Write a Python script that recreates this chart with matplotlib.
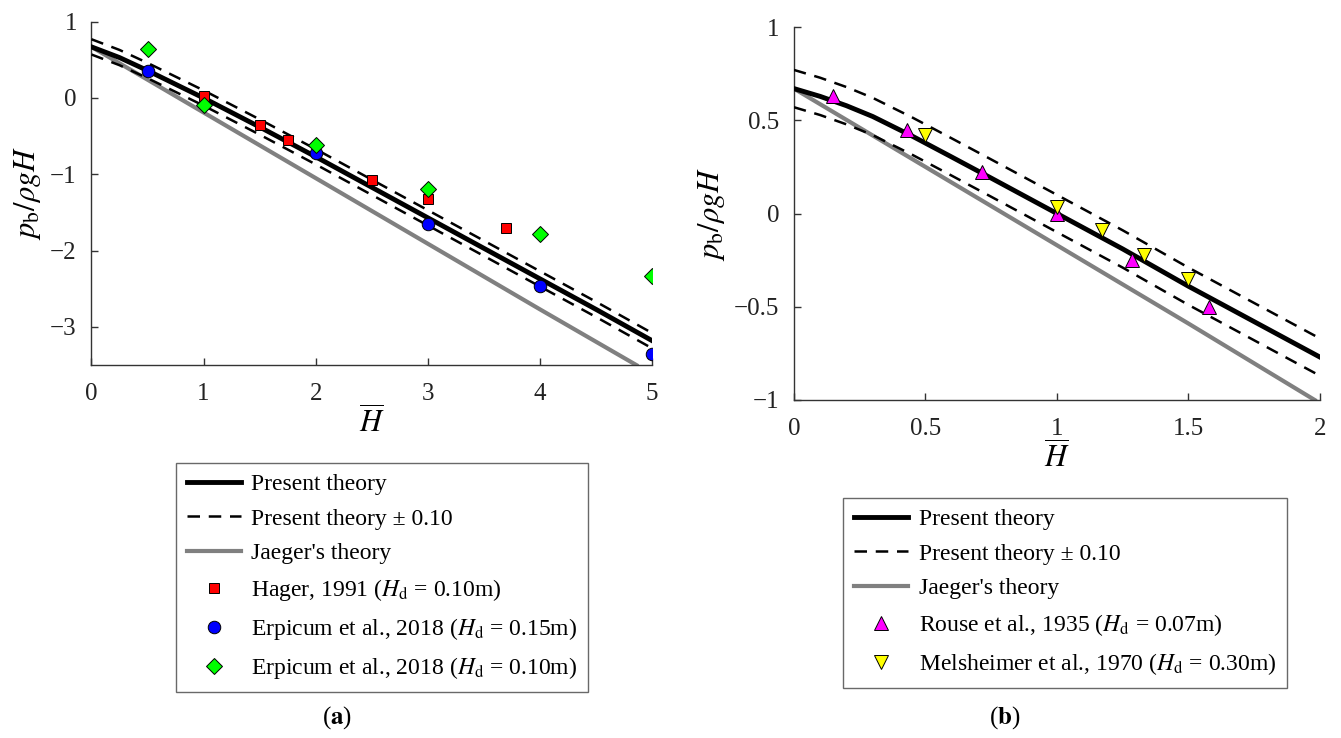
import numpy as np
import matplotlib
matplotlib.use("Agg")
import matplotlib.pyplot as plt

plt.rcParams['font.family'] = ['Liberation Serif', 'DejaVu Serif']
plt.rcParams['mathtext.fontset'] = 'stix'

# ---- panel (a) data ----
theory_a_x = [0, 0.25, 0.5, 1, 1.5, 2, 2.5, 3, 3.5, 4, 4.5, 5]
theory_a_y = [0.67, 0.53, 0.36, 0.0, -0.38, -0.77, -1.17, -1.57, -1.97, -2.37, -2.77, -3.18]
jaeger_a_x = [0, 1, 2, 3, 4, 4.86]
jaeger_a_y = [0.67, -0.19, -1.05, -1.91, -2.77, -3.5]

hager_x = [1, 1.5, 1.75, 2.5, 3, 3.7]
hager_y = [0.03, -0.36, -0.55, -1.07, -1.33, -1.71]
erp15_x = [0.5, 2, 3, 4, 5]
erp15_y = [0.36, -0.72, -1.65, -2.47, -3.36]
erp10_x = [0.5, 1, 2, 3, 4, 5]
erp10_y = [0.64, -0.09, -0.61, -1.19, -1.78, -2.33]

# ---- panel (b) data ----
theory_b_x = [0, 0.1, 0.2, 0.3, 0.45, 0.6, 0.75, 1, 1.25, 1.5, 1.75, 2]
theory_b_y = [0.67, 0.628, 0.578, 0.52, 0.415, 0.303, 0.19, 0.0, -0.19, -0.39, -0.58, -0.77]
jaeger_b_x = [0, 0.5, 1, 1.5, 1.98]
jaeger_b_y = [0.67, 0.25, -0.17, -0.59, -1.0]

rouse_x = [0.15, 0.43, 0.716, 1.0, 1.286, 1.58]
rouse_y = [0.63, 0.45, 0.22, 0.0, -0.25, -0.50]
mels_x = [0.5, 1.0, 1.17, 1.33, 1.5]
mels_y = [0.42, 0.035, -0.09, -0.22, -0.35]

band = 0.10

fig = plt.figure(figsize=(13.41, 7.38), dpi=100)
ax1 = fig.add_axes([0.0682, 0.5054, 0.418, 0.4652])
ax2 = fig.add_axes([0.592, 0.458, 0.3923, 0.5054])


def draw_theory(ax, tx, ty, jx, jy):
    tx = np.array(tx)
    ty = np.array(ty)
    ax.plot(jx, jy, color='#808080', lw=3.0, label="Jaeger's theory", zorder=2)
    ax.plot(tx, ty, color='black', lw=3.5, label='Present theory', zorder=3)
    ax.plot(tx, ty + band, color='black', lw=1.8, ls=(0, (5, 3.5)),
            label='Present theory ± 0.10', zorder=3)
    ax.plot(tx, ty - band, color='black', lw=1.8, ls=(0, (5, 3.5)), zorder=3)


def style_axes(ax, xlim, ylim, xticks, yticks, xlabels, ylabels):
    ax.set_xlim(xlim)
    ax.set_ylim(ylim)
    for s in ['top', 'right']:
        ax.spines[s].set_visible(False)
    for s in ['left', 'bottom']:
        ax.spines[s].set_color('#333333')
        ax.spines[s].set_linewidth(1.0)
    ax.set_xticks(xticks)
    ax.set_yticks(yticks)
    ax.set_xticklabels(xlabels)
    ax.set_yticklabels(ylabels)
    ax.tick_params(direction='in', length=5, width=1, color='#333333',
                   labelsize=18, labelcolor='#222222')
    ax.tick_params(axis='x', pad=13)
    ax.tick_params(axis='y', pad=10.5)
    ax.set_xlabel(r'$\overline{H}$', fontsize=22, labelpad=1)
    ax.set_ylabel(r'$p_{\mathrm{b}}/\rho g H$', fontsize=22, labelpad=5)


# panel (a)
draw_theory(ax1, theory_a_x, theory_a_y, jaeger_a_x, jaeger_a_y)
ax1.plot(hager_x, hager_y, 's', ms=7, mfc='#ff0000', mec='black', mew=0.7,
         label=r'Hager, 1991 ($H_{\mathrm{d}}$ = 0.10m)', zorder=4)
ax1.plot(erp15_x, erp15_y, 'o', ms=9, mfc='#0000ff', mec='black', mew=0.7,
         label=r'Erpicum et al., 2018 ($H_{\mathrm{d}}$ = 0.15m)', zorder=4)
ax1.plot(erp10_x, erp10_y, 'D', ms=8, mfc='#00ff00', mec='black', mew=0.7,
         label=r'Erpicum et al., 2018 ($H_{\mathrm{d}}$ = 0.10m)', zorder=5)
style_axes(ax1, (0, 5), (-3.5, 1), [0, 1, 2, 3, 4, 5], [-3, -2, -1, 0, 1],
           ['0', '1', '2', '3', '4', '5'], ['\u22123', '\u22122', '\u22121', '0', '1'])

# panel (b)
draw_theory(ax2, theory_b_x, theory_b_y, jaeger_b_x, jaeger_b_y)
ax2.plot(rouse_x, rouse_y, '^', ms=10, mfc='#ff00ff', mec='black', mew=0.7,
         label=r'Rouse et al., 1935 ($H_{\mathrm{d}}$ = 0.07m)', zorder=4)
ax2.plot(mels_x, mels_y, 'v', ms=10, mfc='#ffff00', mec='black', mew=0.7,
         label=r'Melsheimer et al., 1970 ($H_{\mathrm{d}}$ = 0.30m)', zorder=4)
style_axes(ax2, (0, 2), (-1, 1), [0, 0.5, 1, 1.5, 2], [-1, -0.5, 0, 0.5, 1],
           ['0', '0.5', '1', '1.5', '2'], ['\u22121', '\u22120.5', '0', '0.5', '1'])


def make_legend(ax, order, anchor):
    h, l = ax.get_legend_handles_labels()
    hh = [h[i] for i in order]
    ll = [l[i] for i in order]
    leg = fig.legend(hh, ll, loc='upper left', bbox_to_anchor=anchor,
                     bbox_transform=fig.transFigure, fontsize=17,
                     frameon=True, fancybox=False, edgecolor='#444444',
                     handlelength=2.3, labelspacing=0.55, borderpad=0.45,
                     handletextpad=0.45, borderaxespad=0)
    leg.get_frame().set_linewidth(1.0)
    return leg


make_legend(ax1, [1, 2, 0, 3, 4, 5], (0.1312, 0.3726))
make_legend(ax2, [1, 2, 0, 3, 4], (0.6286, 0.3252))

fig.text(0.2513, 0.027, r'($\mathbf{a}$)', ha='center', va='center', fontsize=18)
fig.text(0.7494, 0.027, r'($\mathbf{b}$)', ha='center', va='center', fontsize=18)

fig.savefig('out.png', dpi=100, facecolor='white')
